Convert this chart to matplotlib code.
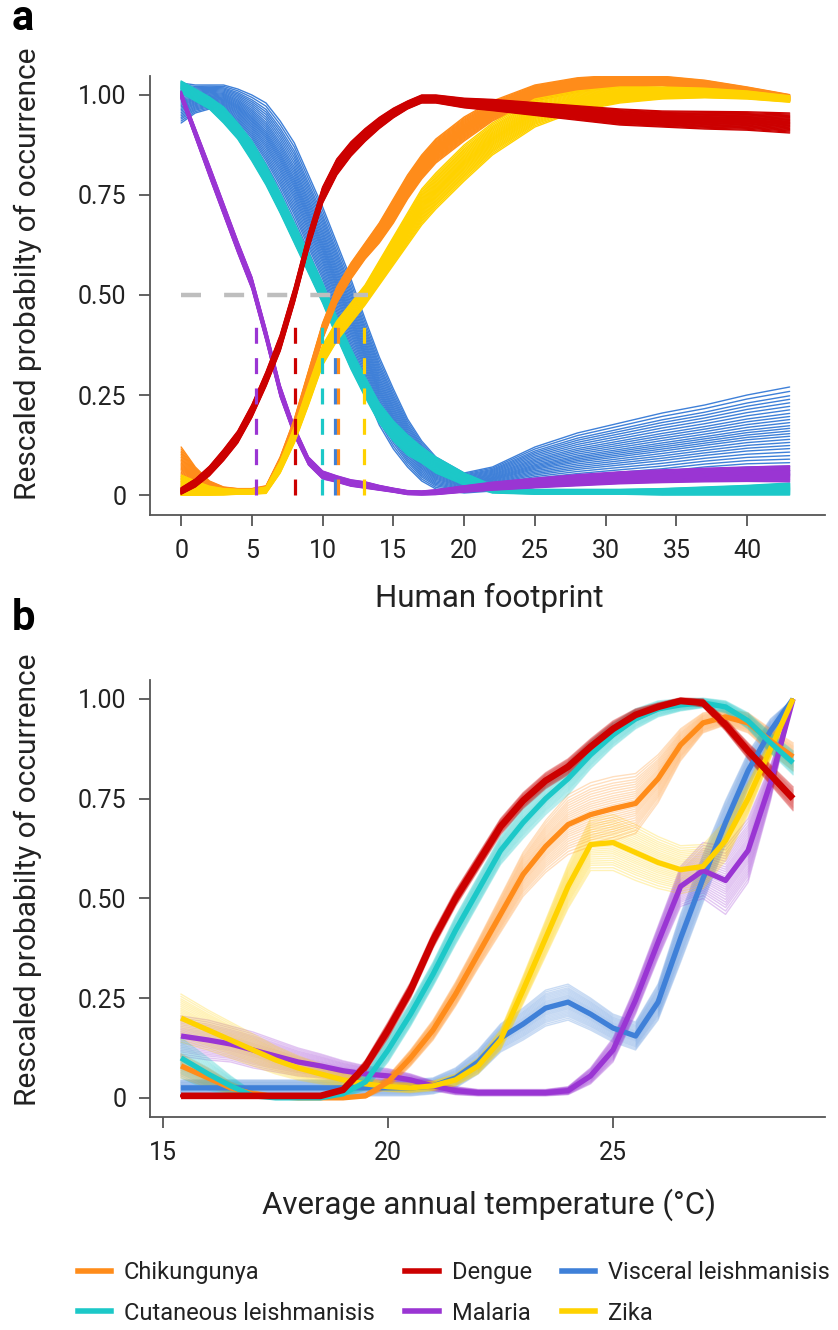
import numpy as np
import matplotlib
matplotlib.use("Agg")
import matplotlib.pyplot as plt
from matplotlib.lines import Line2D

plt.rcParams['font.family'] = ['Roboto', 'DejaVu Sans']

# ---------------- data ----------------
diseases = ["Chikungunya", "Cutaneous leishmanisis", "Dengue", "Malaria",
            "Visceral leishmanisis", "Zika"]
colors = {"Chikungunya": "#FF8C1A", "Cutaneous leishmanisis": "#1CC8C8",
          "Dengue": "#CC0000", "Malaria": "#9A35D3",
          "Visceral leishmanisis": "#3F80D8", "Zika": "#FFD200"}

# Panel a: human footprint
hf_x = [0, 1, 2, 3, 4, 5, 6, 7, 8, 9, 10, 11, 12, 13, 14, 15, 16, 17, 18, 20,
        22, 25, 28, 31, 34, 37, 40, 43]
hf_dengue = [0.01, 0.03, 0.06, 0.10, 0.145, 0.21, 0.29, 0.38, 0.50, 0.635, 0.75,
             0.82, 0.865, 0.90, 0.93, 0.955, 0.975, 0.99, 0.99, 0.98, 0.975,
             0.965, 0.955, 0.945, 0.94, 0.937, 0.935, 0.93]
hf_dengue_sd = [0.008, 0.01, 0.012, 0.014, 0.015, 0.016, 0.018, 0.02, 0.02, 0.02,
                0.02, 0.02, 0.018, 0.016, 0.014, 0.012, 0.01, 0.01, 0.01, 0.012,
                0.014, 0.016, 0.018, 0.02, 0.02, 0.022, 0.023, 0.025]
hf_chik = [0.07, 0.04, 0.02, 0.012, 0.01, 0.01, 0.015, 0.08, 0.17, 0.29, 0.41,
           0.50, 0.56, 0.61, 0.655, 0.71, 0.77, 0.82, 0.86, 0.915, 0.96, 1.005,
           1.025, 1.035, 1.035, 1.025, 1.01, 0.993]
hf_chik_sd = [0.05, 0.03, 0.015, 0.008, 0.006, 0.006, 0.008, 0.015, 0.02, 0.02,
              0.02, 0.02, 0.02, 0.02, 0.025, 0.03, 0.03, 0.03, 0.03, 0.03, 0.025,
              0.02, 0.018, 0.015, 0.012, 0.012, 0.01, 0.008]
hf_zika = [0.02, 0.015, 0.01, 0.008, 0.008, 0.008, 0.012, 0.07, 0.15, 0.25, 0.35,
           0.41, 0.455, 0.50, 0.555, 0.61, 0.665, 0.72, 0.76, 0.83, 0.89, 0.955,
           0.985, 1.0, 1.005, 1.005, 1.0, 0.99]
hf_zika_sd = [0.03, 0.02, 0.012, 0.008, 0.006, 0.006, 0.008, 0.015, 0.02, 0.025,
              0.025, 0.025, 0.025, 0.025, 0.03, 0.035, 0.04, 0.045, 0.045, 0.045,
              0.04, 0.035, 0.025, 0.02, 0.015, 0.012, 0.01, 0.008]
hf_cut = [1.02, 1.0, 0.98, 0.95, 0.91, 0.86, 0.80, 0.73, 0.655, 0.58, 0.505,
          0.42, 0.34, 0.27, 0.205, 0.16, 0.125, 0.10, 0.075, 0.04, 0.015, 0.008,
          0.008, 0.008, 0.008, 0.01, 0.012, 0.015]
hf_cut_sd = [0.015, 0.015, 0.015, 0.02, 0.02, 0.025, 0.025, 0.025, 0.025, 0.025,
             0.025, 0.025, 0.025, 0.025, 0.025, 0.025, 0.025, 0.02, 0.02, 0.015,
             0.01, 0.006, 0.006, 0.006, 0.008, 0.01, 0.012, 0.015]
hf_visc = [0.98, 0.99, 0.995, 0.99, 0.97, 0.94, 0.90, 0.845, 0.78, 0.70, 0.62,
           0.53, 0.44, 0.35, 0.26, 0.19, 0.13, 0.085, 0.055, 0.03, 0.04, 0.07,
           0.09, 0.105, 0.12, 0.135, 0.15, 0.16]
hf_visc_sd = [0.05, 0.035, 0.03, 0.035, 0.045, 0.06, 0.08, 0.09, 0.1, 0.1, 0.1,
              0.1, 0.1, 0.09, 0.085, 0.075, 0.06, 0.05, 0.04, 0.025, 0.03, 0.05,
              0.065, 0.075, 0.085, 0.09, 0.1, 0.11]
hf_malaria = [1.0, 0.905, 0.81, 0.715, 0.62, 0.53, 0.40, 0.26, 0.16, 0.085, 0.05,
              0.04, 0.03, 0.025, 0.018, 0.012, 0.006, 0.005, 0.007, 0.015, 0.022,
              0.03, 0.037, 0.043, 0.047, 0.05, 0.052, 0.053]
hf_malaria_sd = [0.01, 0.012, 0.015, 0.015, 0.015, 0.015, 0.015, 0.015, 0.012,
                 0.01, 0.01, 0.008, 0.008, 0.008, 0.006, 0.005, 0.005, 0.005,
                 0.006, 0.008, 0.01, 0.012, 0.014, 0.015, 0.016, 0.017, 0.018, 0.02]

# thresholds where each curve crosses 0.5 (panel a)
threshold_x = {"Malaria": 5.3, "Dengue": 8.05, "Cutaneous leishmanisis": 9.97,
               "Visceral leishmanisis": 10.85, "Chikungunya": 11.05, "Zika": 12.95}

# Panel b: temperature
t_x = [15.4, 16, 16.5, 17, 17.5, 18, 18.5, 19, 19.5, 20, 20.5, 21, 21.5, 22,
       22.5, 23, 23.5, 24, 24.5, 25, 25.5, 26, 26.5, 27, 27.5, 28, 28.5, 29]
t_dengue = [0.005, 0.005, 0.005, 0.005, 0.005, 0.005, 0.005, 0.02, 0.08, 0.17,
            0.27, 0.395, 0.50, 0.59, 0.68, 0.745, 0.795, 0.83, 0.88, 0.925,
            0.96, 0.98, 0.995, 0.99, 0.935, 0.87, 0.81, 0.75]
t_dengue_sd = [0.003, 0.003, 0.003, 0.003, 0.003, 0.003, 0.004, 0.008, 0.015,
               0.02, 0.02, 0.02, 0.02, 0.02, 0.02, 0.02, 0.02, 0.02, 0.02, 0.02,
               0.015, 0.01, 0.008, 0.01, 0.015, 0.02, 0.025, 0.03]
t_cut = [0.10, 0.06, 0.03, 0.005, 0.0, 0.0, 0.0, 0.01, 0.04, 0.12, 0.21, 0.31,
         0.42, 0.52, 0.62, 0.69, 0.75, 0.80, 0.86, 0.91, 0.95, 0.975, 0.985, 0.99,
         0.98, 0.945, 0.89, 0.84]
t_cut_sd = [0.05, 0.04, 0.025, 0.01, 0.005, 0.005, 0.005, 0.01, 0.02, 0.03, 0.03,
            0.03, 0.035, 0.035, 0.035, 0.04, 0.04, 0.04, 0.035, 0.03, 0.025,
            0.02, 0.015, 0.012, 0.015, 0.02, 0.025, 0.03]
t_chik = [0.08, 0.05, 0.025, 0.01, 0.003, 0.0, 0.0, 0.0, 0.005, 0.04, 0.10, 0.17,
          0.26, 0.36, 0.46, 0.56, 0.63, 0.685, 0.71, 0.725, 0.738, 0.80, 0.885,
          0.94, 0.955, 0.94, 0.895, 0.855]
t_chik_sd = [0.03, 0.025, 0.015, 0.008, 0.004, 0.003, 0.003, 0.003, 0.005, 0.015,
             0.02, 0.025, 0.03, 0.035, 0.045, 0.055, 0.065, 0.075, 0.08, 0.08,
             0.075, 0.06, 0.04, 0.025, 0.02, 0.025, 0.03, 0.035]
t_zika = [0.20, 0.17, 0.145, 0.12, 0.095, 0.075, 0.06, 0.045, 0.035, 0.028,
          0.025, 0.03, 0.045, 0.08, 0.145, 0.27, 0.40, 0.53, 0.635, 0.64, 0.615,
          0.59, 0.572, 0.58, 0.645, 0.75, 0.875, 1.0]
t_zika_sd = [0.06, 0.05, 0.045, 0.04, 0.035, 0.03, 0.025, 0.02, 0.015, 0.012,
             0.012, 0.012, 0.015, 0.02, 0.025, 0.035, 0.045, 0.055, 0.065, 0.07,
             0.07, 0.065, 0.06, 0.055, 0.05, 0.04, 0.025, 0.0]
t_malaria = [0.155, 0.145, 0.135, 0.12, 0.105, 0.09, 0.08, 0.068, 0.06, 0.055,
             0.045, 0.03, 0.018, 0.013, 0.013, 0.013, 0.013, 0.018, 0.055, 0.12,
             0.245, 0.39, 0.53, 0.57, 0.545, 0.62, 0.79, 1.0]
t_malaria_sd = [0.05, 0.05, 0.045, 0.045, 0.04, 0.035, 0.03, 0.025, 0.02, 0.018,
                0.015, 0.012, 0.01, 0.008, 0.008, 0.008, 0.008, 0.01, 0.02, 0.03,
                0.035, 0.04, 0.05, 0.07, 0.085, 0.08, 0.045, 0.0]
t_visc = [0.025, 0.025, 0.025, 0.025, 0.025, 0.025, 0.025, 0.025, 0.025, 0.025,
          0.025, 0.03, 0.05, 0.09, 0.15, 0.185, 0.225, 0.24, 0.21, 0.175, 0.155,
          0.24, 0.40, 0.55, 0.69, 0.82, 0.92, 1.0]
t_visc_sd = [0.02, 0.02, 0.02, 0.02, 0.02, 0.02, 0.02, 0.02, 0.02, 0.02, 0.02,
             0.02, 0.025, 0.03, 0.035, 0.04, 0.045, 0.045, 0.04, 0.035, 0.035,
             0.045, 0.06, 0.06, 0.055, 0.045, 0.03, 0.0]

# relative position of each bootstrap replicate within the read envelope
replicate_offsets = [-1.0, -0.9, -0.8, -0.72, -0.64, -0.56, -0.48, -0.4, -0.33,
                     -0.26, -0.19, -0.12, -0.06, 0.0, 0.06, 0.12, 0.19, 0.26,
                     0.33, 0.4, 0.48, 0.56, 0.64, 0.72, 0.8, 0.9, 1.0]

panel_a = {"Chikungunya": (hf_chik, hf_chik_sd),
           "Cutaneous leishmanisis": (hf_cut, hf_cut_sd),
           "Dengue": (hf_dengue, hf_dengue_sd),
           "Malaria": (hf_malaria, hf_malaria_sd),
           "Visceral leishmanisis": (hf_visc, hf_visc_sd),
           "Zika": (hf_zika, hf_zika_sd)}
panel_b = {"Chikungunya": (t_chik, t_chik_sd),
           "Cutaneous leishmanisis": (t_cut, t_cut_sd),
           "Dengue": (t_dengue, t_dengue_sd),
           "Malaria": (t_malaria, t_malaria_sd),
           "Visceral leishmanisis": (t_visc, t_visc_sd),
           "Zika": (t_zika, t_zika_sd)}

# ---------------- figure ----------------
W, H = 838, 1330
fig = plt.figure(figsize=(W / 100, H / 100), dpi=100)


def axes_px(left, top, right, bottom):
    return fig.add_axes([left / W, 1 - bottom / H, (right - left) / W, (bottom - top) / H])


axA = axes_px(150, 76, 825, 515)
axB = axes_px(150, 680, 825, 1117)

TICK_FS = 18
LABEL_FS = 22.5
YLAB_FS = 21.5
TXT = "#222222"


def style(ax):
    for s in ["top", "right"]:
        ax.spines[s].set_visible(False)
    for s in ["left", "bottom"]:
        ax.spines[s].set_color("#555555")
        ax.spines[s].set_linewidth(1.3)
    ax.tick_params(axis="both", direction="out", length=8, width=1.3,
                   color="#555555", labelsize=TICK_FS, pad=9, labelcolor=TXT)
    ax.set_yticks([0, 0.25, 0.5, 0.75, 1.0])
    ax.set_yticklabels(["0", "0.25", "0.50", "0.75", "1.00"])


# ---- panel a ----
xa = np.array(hf_x)
order_a = ["Visceral leishmanisis", "Cutaneous leishmanisis", "Malaria",
           "Chikungunya", "Zika", "Dengue"]
for d in order_a:
    c, sd = panel_a[d]
    c = np.array(c); sd = np.array(sd)
    for k in replicate_offsets:
        axA.plot(xa, np.clip(c + k * sd, 0, None), color=colors[d], lw=1.0,
                 solid_capstyle="round")

axA.plot([0, 13.2], [0.5, 0.5], color="#BEBEBE", lw=3.2, dashes=(4.5, 5.2), zorder=5)
for d, xv in threshold_x.items():
    axA.plot([xv, xv], [0, 0.43], color=colors[d], lw=2.3, dashes=(5, 4.5), zorder=6)

axA.set_xlim(-2.2, 45.5)
axA.set_ylim(-0.05, 1.0475)
axA.set_xticks([0, 5, 10, 15, 20, 25, 30, 35, 40])
style(axA)

# ---- panel b ----
xb = np.array(t_x)
order_b = ["Visceral leishmanisis", "Malaria", "Zika", "Chikungunya",
           "Cutaneous leishmanisis", "Dengue"]
for d in order_b:
    c, sd = panel_b[d]
    c = np.array(c); sd = np.array(sd)
    for k in replicate_offsets:
        axB.plot(xb, np.clip(c + k * sd, 0, None), color=colors[d], lw=1.0,
                 alpha=0.28, solid_joinstyle="round")
for d in order_b:
    c, sd = panel_b[d]
    axB.plot(xb, c, color=colors[d], lw=4.8 if d == "Dengue" else 3.8,
             solid_capstyle="butt", solid_joinstyle="round")

axB.set_xlim(14.71, 29.71)
axB.set_ylim(-0.048, 1.0475)
axB.set_xticks([15, 20, 25])
style(axB)

# ---- labels ----
ylab = "Rescaled probabilty of occurrence"
fig.text(28 / W, 1 - 274 / H, ylab, rotation=90, ha="center", va="center",
         fontsize=YLAB_FS, color=TXT)
fig.text(28 / W, 1 - 880 / H, ylab, rotation=90, ha="center", va="center",
         fontsize=YLAB_FS, color=TXT)
fig.text(489 / W, 1 - 598 / H, "Human footprint", ha="center", va="center",
         fontsize=LABEL_FS, color=TXT)
fig.text(489 / W, 1 - 1205 / H, "Average annual temperature (°C)", ha="center",
         va="center", fontsize=LABEL_FS, color=TXT)
fig.text(12 / W, 1 - 19 / H, "a", ha="left", va="center", fontsize=30,
         fontweight="bold", color="black")
fig.text(12 / W, 1 - 618 / H, "b", ha="left", va="center", fontsize=30,
         fontweight="bold", color="black")

# ---- legend ----
handles = [Line2D([0], [0], color=colors[d], lw=4) for d in diseases]
fig.legend(handles, diseases, ncol=3, frameon=False, loc="upper left",
           bbox_to_anchor=(78 / W, 1 - 1261 / H), borderpad=0, borderaxespad=0,
           fontsize=17, handlelength=1.4, handletextpad=0.55, columnspacing=1.3,
           labelspacing=0.75, labelcolor=TXT)

fig.savefig("out.png", dpi=100)
